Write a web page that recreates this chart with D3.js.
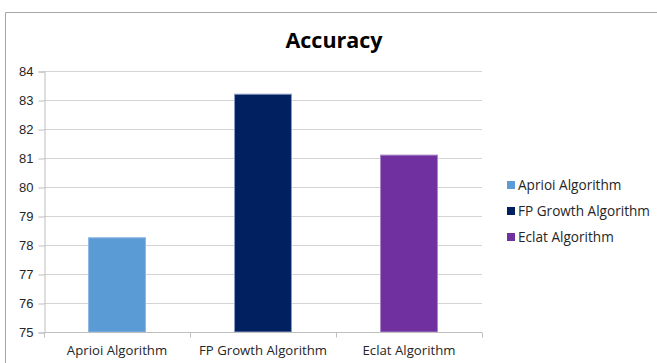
<!DOCTYPE html>
<html><head><meta charset="utf-8">
<script src="https://cdn.jsdelivr.net/npm/d3@7/dist/d3.min.js"></script>
<style>body{margin:0;background:#fff;}svg{display:block;font-family:"Open Sans","Liberation Sans",sans-serif;}</style>
</head><body>
<svg id="c" width="657" height="363"></svg>
<script>
const categories = ["Aprioi Algorithm", "FP Growth Algorithm", "Eclat Algorithm"];
const values = [78.25, 83.2, 81.1];
const colors = ["#5B9BD5", "#002060", "#7030A0"];
const strokes = ["#8fb8e4", "#8a9cc4", "#a987c9"];
const yTicks = [75, 76, 77, 78, 79, 80, 81, 82, 83, 84];
const title = "Accuracy";

const svg = d3.select("#c");
// outer border
svg.append("path").attr("d", "M5.5,363 V12.5 H657").attr("fill", "none").attr("stroke", "#a6a6a6");

const x = d3.scaleBand().domain(categories).range([44, 482]);
const y = d3.scaleLinear().domain([75, 84]).range([332, 71]);

// gridlines
svg.append("g").selectAll("line").data(yTicks.filter(t => t > 75)).join("line")
  .attr("x1", 44).attr("x2", 482).attr("y1", d => y(d) + 0.5).attr("y2", d => y(d) + 0.5)
  .attr("stroke", "#d4d4d4");

// y axis
const ya = svg.append("g").attr("transform", "translate(44.5,0.5)")
  .call(d3.axisLeft(y).tickValues(yTicks).tickSize(6).tickPadding(5).tickFormat(d3.format("d")));
ya.select(".domain").attr("stroke", "#bfbfbf");
ya.selectAll(".tick line").attr("stroke", "#bfbfbf");
ya.selectAll("text").attr("font-size", 13).attr("fill", "#262626");

// bars
const bw = x.bandwidth() * 0.39;
svg.append("g").selectAll("rect").data(categories).join("rect")
  .attr("x", d => x(d) + x.bandwidth() / 2 - bw / 2)
  .attr("width", bw)
  .attr("y", (d, i) => y(values[i]))
  .attr("height", (d, i) => y(75) - y(values[i]))
  .attr("fill", (d, i) => colors[i])
  .attr("stroke", (d, i) => strokes[i]).attr("stroke-width", 1);

// x axis
const xa = svg.append("g").attr("transform", "translate(0,332.5)");
xa.append("line").attr("x1", 44).attr("x2", 482).attr("stroke", "#bfbfbf");
const bounds = categories.map(c => x(c)).concat([482]);
xa.selectAll("line.t").data(bounds).join("line").attr("class", "t")
  .attr("x1", d => Math.round(d) + 0.5).attr("x2", d => Math.round(d) + 0.5).attr("y1", 0).attr("y2", 5)
  .attr("stroke", "#bfbfbf");
xa.selectAll("text").data(categories).join("text")
  .attr("x", d => x(d) + x.bandwidth() / 2).attr("y", 22)
  .attr("text-anchor", "middle").attr("font-size", 13.2).attr("fill", "#262626").text(d => d);

// title
svg.append("text").attr("x", 334).attr("y", 48).attr("text-anchor", "middle")
  .attr("font-size", 21.5).attr("font-weight", "bold").attr("fill", "#000").text(title);

// legend
const lg = svg.append("g").selectAll("g").data(categories).join("g")
  .attr("transform", (d, i) => `translate(507,${185 + i * 26})`);
lg.append("rect").attr("x", 0).attr("y", -4).attr("width", 8).attr("height", 8).attr("fill", (d, i) => colors[i]);
lg.append("text").attr("x", 11).attr("y", 0).attr("dy", "0.35em").attr("font-size", 13.6).attr("fill", "#262626").text(d => d);
</script>
</body></html>
